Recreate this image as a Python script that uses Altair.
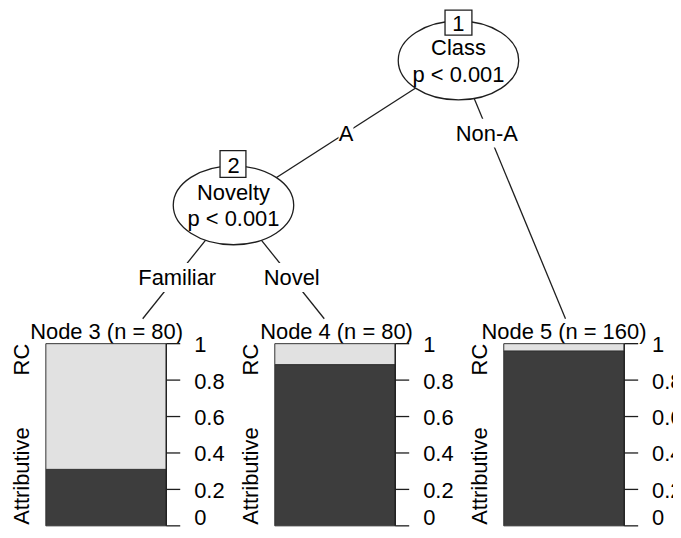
import altair as alt
import pandas as pd

# ---------------- data ----------------
classes = ["Attributive", "RC"]
inner_ids = [1, 2]
inner_vars = ["Class", "Novelty"]
inner_p = ["p < 0.001", "p < 0.001"]
edge_labels = ["A", "Non-A", "Familiar", "Novel"]
leaf_ids = [3, 4, 5]
leaf_n = [80, 80, 160]
attributive_share = [0.31, 0.885, 0.96]
tick_values = [0, 0.2, 0.4, 0.6, 0.8, 1]

# ---------------- layout (page pixels) ----------------
FONT = "Liberation Sans"
FS = 22
DARK = "#3d3d3d"
LIGHT = "#e1e1e1"
LINE = "#1e1e1e"

node_xy = {1: (457.5, 59.5), 2: (231.5, 205.0)}
node_box = {1: (444, 9, 471, 34, 29.5), 2: (218, 150, 244, 177, 172.5)}  # x1,y1,x2,y2,text baseline
node_text_base = {1: (54, 81), 2: (200, 226)}
edge_seg = [
    (node_xy[1], node_xy[2]),
    (node_xy[1], (565.0, 319.0)),
    (node_xy[2], (140.3, 319.0)),
    (node_xy[2], (322.7, 319.0)),
]
edge_lab_pos = [(344.5, 140, 15), (486, 140, 62), (175, 285, 80), (290, 285, 56)]  # x, baseline, box width
leaf_header = [(104, 339), (335, 339), (563.5, 339)]

PAGE_W = 665            # drawable width inside the 8px page margins
BAR_TOP = 344           # page y of the bars' top
BAR_W, BAR_H = 121, 183
PT, PB = 12, 3          # room above / below the bars inside the leaf panels
LEAD = 35
GAP = 109
EXTRA = 60
LAST_W = PAGE_W - LEAD - 2 * (BAR_W + GAP)
TICK_LEN, LABEL_X = 14, 28
TREE_W, TREE_H = PAGE_W, BAR_TOP - PT - 8

ELLIPSE = "M-1,0A1,0.655,0,1,1,1,0A1,0.655,0,1,1,-1,0Z"

xs = alt.Scale(domain=[8, 8 + TREE_W], nice=False, zero=False)
ys = alt.Scale(domain=[8, 8 + TREE_H], nice=False, zero=False, reverse=True)

# edges
edges_df = pd.DataFrame({
    "x": [a[0] for a, b in edge_seg], "y": [a[1] for a, b in edge_seg],
    "x2": [b[0] for a, b in edge_seg], "y2": [b[1] for a, b in edge_seg],
})
edges = alt.Chart(edges_df).mark_rule(color=LINE, strokeWidth=1.3).encode(
    x=alt.X("x:Q", scale=xs, axis=None), y=alt.Y("y:Q", scale=ys, axis=None),
    x2="x2:Q", y2="y2:Q")

elab_df = pd.DataFrame({
    "label": edge_labels,
    "x": [p[0] for p in edge_lab_pos],
    "yb": [p[1] for p in edge_lab_pos],
    "bx1": [p[0] - p[2] / 2 for p in edge_lab_pos],
    "bx2": [p[0] + p[2] / 2 for p in edge_lab_pos],
    "by1": [p[1] - 22 for p in edge_lab_pos],
    "by2": [p[1] + 7 for p in edge_lab_pos],
})
elab_bg = alt.Chart(elab_df).mark_rect(fill="white", stroke=None).encode(
    x=alt.X("bx1:Q", scale=xs, axis=None), x2="bx2:Q",
    y=alt.Y("by1:Q", scale=ys, axis=None), y2="by2:Q")
elab_txt = alt.Chart(elab_df).mark_text(font=FONT, fontSize=FS, baseline="alphabetic",
                                        align="center", color="black").encode(
    x=alt.X("x:Q", scale=xs, axis=None), y=alt.Y("yb:Q", scale=ys, axis=None), text="label:N")

inner_df = pd.DataFrame({
    "id": [str(i) for i in inner_ids],
    "var": inner_vars, "p": inner_p,
    "cx": [node_xy[i][0] for i in inner_ids],
    "cy": [node_xy[i][1] for i in inner_ids],
    "b1": [node_text_base[i][0] for i in inner_ids],
    "b2": [node_text_base[i][1] for i in inner_ids],
    "bx1": [node_box[i][0] for i in inner_ids], "by1": [node_box[i][1] for i in inner_ids],
    "bx2": [node_box[i][2] for i in inner_ids], "by2": [node_box[i][3] for i in inner_ids],
    "bt": [node_box[i][4] for i in inner_ids],
})
ell = alt.Chart(inner_df).mark_point(shape=ELLIPSE, size=121 ** 2, filled=False, fill="white",
                                     fillOpacity=1, stroke=LINE, strokeWidth=1.3, opacity=1).encode(
    x=alt.X("cx:Q", scale=xs, axis=None), y=alt.Y("cy:Q", scale=ys, axis=None))
var_txt = alt.Chart(inner_df).mark_text(font=FONT, fontSize=FS, baseline="alphabetic", color="black").encode(
    x=alt.X("cx:Q", scale=xs, axis=None), y=alt.Y("b1:Q", scale=ys, axis=None), text="var:N")
p_txt = alt.Chart(inner_df).mark_text(font=FONT, fontSize=FS, baseline="alphabetic", color="black").encode(
    x=alt.X("cx:Q", scale=xs, axis=None), y=alt.Y("b2:Q", scale=ys, axis=None), text="p:N")
idbox = alt.Chart(inner_df).mark_rect(fill="white", stroke=LINE, strokeWidth=1.3).encode(
    x=alt.X("bx1:Q", scale=xs, axis=None), x2="bx2:Q",
    y=alt.Y("by1:Q", scale=ys, axis=None), y2="by2:Q")
id_txt = alt.Chart(inner_df).mark_text(font=FONT, fontSize=FS, baseline="alphabetic", color="black").encode(
    x=alt.X("cx:Q", scale=xs, axis=None), y=alt.Y("bt:Q", scale=ys, axis=None), text="id:N")

head_df = pd.DataFrame({
    "label": [f"Node {i} (n = {n})" for i, n in zip(leaf_ids, leaf_n)],
    "x": [h[0] for h in leaf_header], "y": [h[1] for h in leaf_header],
})
heads = alt.Chart(head_df).mark_text(font=FONT, fontSize=FS, baseline="alphabetic", color="black").encode(
    x=alt.X("x:Q", scale=xs, axis=None), y=alt.Y("y:Q", scale=ys, axis=None), text="label:N")

tree = alt.layer(edges, elab_bg, elab_txt, ell, var_txt, p_txt, idbox, id_txt, heads).properties(
    width=TREE_W, height=TREE_H)

# ---------------- leaf bar panels ----------------
rows = []
for nid, a in zip(leaf_ids, attributive_share):
    rows.append({"node": nid, "cls": classes[0], "frac": a, "order": 0})
    rows.append({"node": nid, "cls": classes[1], "frac": 1 - a, "order": 1})
bars_df = pd.DataFrame(rows)
ticks_df = pd.DataFrame({"v": tick_values, "lab": [f"{v:g}" for v in tick_values]})

label_py = {classes[0]: PT + 133, classes[1]: PT + 16}
yscale = alt.Scale(domain=[0, 1], nice=False, zero=True, range=[PT + BAR_H, PT])


def tick_labels(cond, dy, clip):
    return alt.Chart(ticks_df).transform_filter(cond).mark_text(
        font=FONT, fontSize=FS, align="left", baseline="alphabetic", dy=dy, color="black", clip=clip
    ).encode(x=alt.value(BAR_W + LABEL_X), y=alt.Y("v:Q", scale=yscale, axis=None), text="lab:N")


def leaf_panel(nid, width, clip_mid):
    base = alt.Chart(bars_df).transform_filter(alt.datum.node == nid).transform_stack(
        stack="frac", groupby=["node"], sort=[alt.SortField("order")], as_=["y0", "y1"])
    rect = base.mark_rect(stroke="#333333", strokeWidth=1).encode(
        x=alt.value(0), x2=alt.value(BAR_W),
        y=alt.Y("y0:Q", scale=yscale, axis=None),
        y2="y1:Q",
        color=alt.Color("cls:N", scale=alt.Scale(domain=classes, range=[DARK, LIGHT]), legend=None),
    )
    tk = alt.Chart(ticks_df).mark_rule(color=LINE, strokeWidth=1.3).encode(
        x=alt.value(BAR_W), x2=alt.value(BAR_W + TICK_LEN), y=alt.Y("v:Q", scale=yscale, axis=None))
    dom = alt.Chart(ticks_df).mark_rule(color=LINE, strokeWidth=1.3).encode(
        x=alt.value(BAR_W), y=alt.Y("min(v):Q", scale=yscale, axis=None), y2="max(v):Q")
    lab_mid = tick_labels((alt.datum.v > 0) & (alt.datum.v < 1), 8.5, clip_mid)
    lab_one = tick_labels(alt.datum.v == 1, 8.5, False)
    lab_zero = tick_labels(alt.datum.v == 0, -1, False)
    layers = [rect, dom, tk, lab_mid, lab_one, lab_zero]
    for c in classes:
        layers.append(alt.Chart(pd.DataFrame({"t": [c]})).mark_text(
            font=FONT, fontSize=FS, angle=270, align="center", baseline="alphabetic", color="black"
        ).encode(x=alt.value(-17), y=alt.value(label_py[c]), text="t:N"))
    return alt.layer(*layers).properties(width=width, height=PT + BAR_H + PB)


spacer = alt.Chart(pd.DataFrame({"a": [0]})).mark_point(opacity=0).encode(
    x=alt.value(0), y=alt.value(PT)).properties(width=LEAD, height=PT + BAR_H + PB)

panels = [leaf_panel(3, BAR_W + EXTRA, False), leaf_panel(4, BAR_W + EXTRA, False),
          leaf_panel(5, LAST_W, True)]
bars_row = alt.hconcat(*panels, spacing=GAP - EXTRA, bounds="flush").resolve_scale(
    y="independent", color="independent")
bottom = alt.hconcat(spacer, bars_row, spacing=0, bounds="flush")

chart = alt.vconcat(tree, bottom, spacing=0, bounds="flush").resolve_scale(
    x="independent", y="independent", color="independent").properties(
    padding=0, autosize=alt.AutoSizeParams(type="pad")).configure_view(stroke=None)

chart.save("out.html", embed_options={"renderer": "svg", "actions": False})
